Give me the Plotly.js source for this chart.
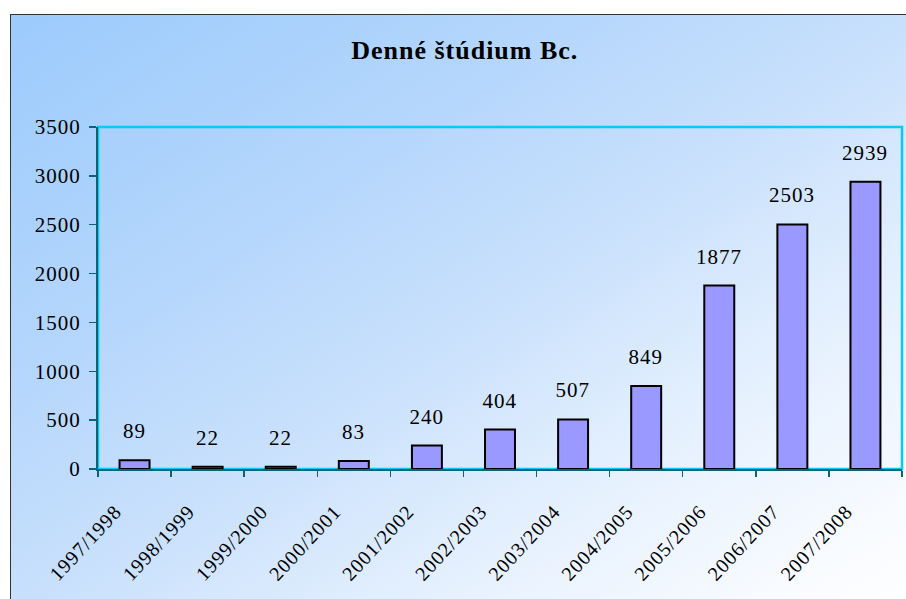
<!DOCTYPE html>
<html>
<head>
<meta charset="utf-8">
<script src="https://cdn.plot.ly/plotly-3.0.1.min.js"></script>
<style>
  html, body { margin: 0; padding: 0; background: #ffffff; }
  #bg {
    position: absolute; left: 10px; top: 14px; width: 912px; height: 600px;
    border-left: 1.5px solid #333333; border-top: 1.5px solid #333333;
    background: linear-gradient(to bottom right, #9ccbfc 0%, #b4d6fc 30%, #c8e0fc 50%, #e6f1fe 72%, #fafcff 92%, #ffffff 100%);
  }
  #chart { position: absolute; left: 0; top: 0; width: 906px; height: 599px; }
  #chart text { letter-spacing: 1px; }
</style>
</head>
<body>
<div id="bg"></div>
<div id="chart"></div>
<script>
const categories = ["1997/1998","1998/1999","1999/2000","2000/2001","2001/2002","2002/2003","2003/2004","2004/2005","2005/2006","2006/2007","2007/2008"];
const values = [89, 22, 22, 83, 240, 404, 507, 849, 1877, 2503, 2939];
const yTicks = [0, 500, 1000, 1500, 2000, 2500, 3000, 3500];
const chartTitle = "Denné štúdium Bc.";

const serif = "'Liberation Serif', 'Times New Roman', serif";

const trace = {
  type: "bar",
  x: categories,
  y: values,
  marker: { color: "#9999ff", line: { color: "#000000", width: 2 } },
  hoverinfo: "x+y"
};

const annotations = categories.map((c, i) => ({
  x: c, y: values[i], xref: "x", yref: "y",
  text: String(values[i]), showarrow: false,
  yanchor: "bottom", yshift: 15,
  font: { family: serif, size: 21, color: "#000000" }
}));

const layout = {
  width: 906, height: 599,
  paper_bgcolor: "rgba(0,0,0,0)",
  plot_bgcolor: "rgba(0,0,0,0)",
  margin: { l: 98, r: 4, t: 127, b: 130 },
  title: {
    text: "<b>" + chartTitle + "</b>",
    font: { family: serif, size: 26, color: "#000000" },
    xref: "container", x: 0.513, xanchor: "center",
    yref: "container", y: 1 - 50/599, yanchor: "middle"
  },
  bargap: 0.59,
  showlegend: false,
  xaxis: {
    type: "category",
    showline: true, linecolor: "#0a6478", linewidth: 2,
    ticks: "outside", tickson: "boundaries", ticklen: 6, tickcolor: "#0a6478", tickwidth: 1.5,
    tickangle: -47,
    tickfont: { family: serif, size: 20, color: "#000000" },
    ticklabelstandoff: 21,
    ticklabelshift: -19,
    showgrid: false, zeroline: false
  },
  yaxis: {
    range: [0, 3500],
    tickvals: yTicks,
    ticktext: yTicks.map(String),
    showline: true, linecolor: "#0a6478", linewidth: 2,
    ticks: "outside", ticklen: 7, tickcolor: "#0a6478", tickwidth: 1.5,
    tickfont: { family: serif, size: 21, color: "#000000" },
    ticklabelstandoff: 4,
    showgrid: false, zeroline: false
  },
  shapes: [{
    type: "rect", xref: "paper", yref: "paper", x0: 0, x1: 1, y0: 0, y1: 1,
    line: { color: "#00ccff", width: 2.5 }, layer: "below"
  }],
  annotations: annotations
};

Plotly.newPlot("chart", [trace], layout, { displayModeBar: false, staticPlot: true });
</script>
</body>
</html>
